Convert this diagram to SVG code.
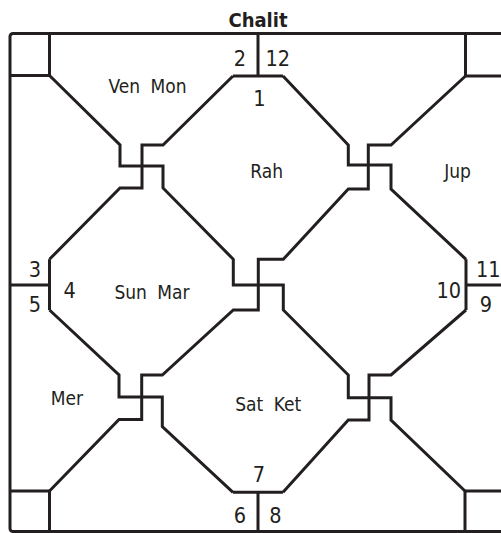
<svg xmlns="http://www.w3.org/2000/svg" width="501" height="533" viewBox="0 0 501 533">
<style>
.ln{fill:none;stroke:#231f20;stroke-width:3;stroke-linejoin:miter;stroke-linecap:butt}
text{font-family:"DejaVu Sans Condensed","DejaVu Sans",sans-serif;font-stretch:condensed;fill:#231f20;text-anchor:middle}
.num{font-size:21.5px}
.pl{font-size:19px;word-spacing:5px}
.title{font-size:20px;font-weight:bold}
</style>
<rect width="501" height="533" fill="#ffffff"/>
<g id="connectors">
<rect class="ln" x="10" y="33.5" width="496" height="498" rx="3"/>
<path class="ln" d="M258,33.5V76M233,76H283"/>
<path class="ln" d="M49.5,33.5V75.5H10"/>
<path class="ln" d="M465.5,33.5V76H506"/>
<path class="ln" d="M10,285H49.5M49.5,259.3V310"/>
<path class="ln" d="M466,285H506M466,259.3V310"/>
<path class="ln" d="M49.5,531.5V491H10"/>
<path class="ln" d="M465,531.5V491H506"/>
<path class="ln" d="M258,531.5V492.3M233,492.3H283"/>
<path class="ln" d="M49.5,75.5L120,145V166H163V188L233.3,259.3V285H283.3V310L348.3,375V397.7H391V420L465,491"/>
<path class="ln" d="M233,76L163,145H142V188H120L49.5,259.3"/>
<path class="ln" d="M283,76L348.3,145V165H391V189L466,259.3"/>
<path class="ln" d="M465.5,76L391,145H368.3V189H348.3L283.3,259.3H258.3V310H233.3L162.3,375H141.7V419.5H119L49.5,491"/>
<path class="ln" d="M49.5,310L119,375V397H162.3V426.7L233,492.3"/>
<path class="ln" d="M283,492.3L348.3,420H369V375H391L466,310"/>
</g>
<g id="title"><text class="title" x="258" y="26.5">Chalit</text></g>
<g id="house-1"><text class="num" x="259.5" y="106">1</text><text class="pl" x="266.7" y="178.3">Rah</text></g>
<g id="house-2"><text class="num" x="240" y="65.7">2</text><text class="pl" x="147.5" y="93.3">Ven Mon</text></g>
<g id="house-3"><text class="num" x="35" y="277.3">3</text></g>
<g id="house-4"><text class="num" x="69.7" y="297.7">4</text><text class="pl" x="152" y="299.3">Sun Mar</text></g>
<g id="house-5"><text class="num" x="35" y="311.7">5</text><text class="pl" x="67" y="405">Mer</text></g>
<g id="house-6"><text class="num" x="240" y="522.7">6</text></g>
<g id="house-7"><text class="num" x="258.8" y="481.7">7</text><text class="pl" x="268.2" y="410.7">Sat Ket</text></g>
<g id="house-8"><text class="num" x="275.3" y="522.7">8</text></g>
<g id="house-9"><text class="num" x="486" y="311.7">9</text></g>
<g id="house-10"><text class="num" x="448.8" y="297.7">10</text></g>
<g id="house-11"><text class="num" x="488.3" y="277.3">11</text></g>
<g id="house-12"><text class="num" x="277.8" y="65.7">12</text><text class="pl" x="457.5" y="178.3">Jup</text></g>
</svg>
